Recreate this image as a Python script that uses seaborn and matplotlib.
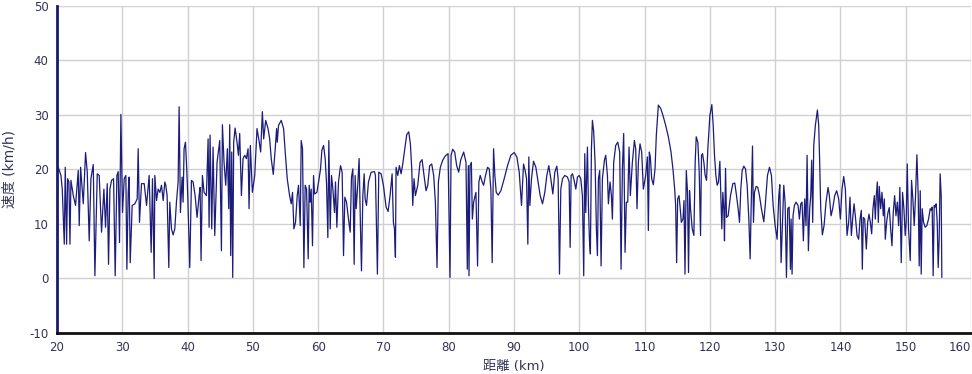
import matplotlib
matplotlib.use("Agg")
import matplotlib.pyplot as plt
import seaborn as sns
import pandas as pd

distance_km = [
    20.20, 20.61, 20.81, 21.12, 21.27, 21.48, 21.63, 21.83, 21.99, 22.14, 22.50, 22.85, 23.26, 23.41, 23.62,
    24.03, 24.38, 24.64, 24.94, 25.20, 25.56, 25.81, 26.17, 26.47, 26.83, 27.19, 27.44, 27.70, 27.90, 28.11,
    28.36, 28.67, 28.92, 29.18, 29.38, 29.58, 29.79, 30.04, 30.30, 30.55, 30.71, 30.91, 31.06, 31.22, 31.52,
    31.93, 32.29, 32.44, 32.64, 32.95, 33.36, 33.72, 34.12, 34.43, 34.63, 34.89, 34.99, 35.25, 35.50, 35.76,
    36.01, 36.27, 36.52,
    36.67, 36.87, 37.13, 37.28, 37.54, 37.79, 38.05, 38.30, 38.56, 38.71, 38.91, 39.17, 39.32, 39.47, 39.68,
    39.88, 40.03, 40.34, 40.60, 40.85, 41.16, 41.46, 41.77, 41.92, 42.07, 42.28, 42.53, 42.89, 43.15, 43.30,
    43.45, 43.71, 43.91, 44.17, 44.52, 44.93, 45.19, 45.34, 45.59, 45.85, 46.10, 46.31, 46.46, 46.61, 46.77,
    46.92, 47.07, 47.28, 47.58, 47.79, 47.99, 48.25, 48.50, 48.76, 49.01, 49.27, 49.42, 49.62, 49.93, 50.29,
    50.64, 50.95, 51.20, 51.46, 51.66, 51.97, 52.33, 52.58,
    52.82, 53.13, 53.43, 53.64, 53.74, 53.94, 54.35, 54.71, 54.96, 55.27, 55.63, 55.88, 56.08, 56.29, 56.54,
    56.80, 57.00, 57.26, 57.41, 57.61, 57.82, 58.02, 58.23, 58.48, 58.63, 58.79, 58.94, 59.14, 59.30, 59.45,
    59.81, 60.11, 60.37, 60.57, 60.83, 61.08, 61.29, 61.49, 61.64, 61.85, 62.05, 62.26, 62.51, 62.66, 62.87,
    63.12, 63.43, 63.68, 63.89, 64.09, 64.35, 64.65, 64.91, 65.11, 65.32, 65.52, 65.67, 65.83, 66.08, 66.28,
    66.49, 66.64, 66.85, 67.05, 67.20, 67.41, 67.71, 68.12, 68.63,
    68.78, 69.08, 69.29, 69.65, 70.00, 70.41, 70.72, 71.02, 71.33, 71.53, 71.69, 71.84, 71.94, 72.20, 72.45,
    72.71, 72.96, 73.27, 73.57, 73.88, 74.13, 74.34, 74.49, 74.69, 74.90, 75.26, 75.61, 75.92, 76.22, 76.53,
    76.79, 77.09, 77.40, 77.70, 77.96, 78.21, 78.42, 78.72, 79.08, 79.49, 79.90, 80.20, 80.36, 80.61, 80.92,
    81.22, 81.53, 81.83, 82.29, 82.65, 82.85, 83.01, 83.11, 83.26, 83.47, 83.62, 83.82,
    84.17, 84.42, 84.62, 84.83, 85.13, 85.34, 85.64, 85.95, 86.21, 86.46, 86.66, 86.87, 87.07, 87.28, 87.58,
    87.99, 88.50, 89.01, 89.52, 90.03, 90.44, 90.80, 91.15, 91.46, 91.71, 91.92, 92.12, 92.27, 92.43, 92.68,
    92.99, 93.35, 93.70, 94.01, 94.37, 94.72, 95.03, 95.33, 95.64, 95.95, 96.25, 96.56, 96.76, 96.97, 97.17,
    97.43, 97.78, 98.19, 98.45, 98.60, 98.75, 98.96, 99.21, 99.47, 99.72, 99.98, 100.23,
    100.48, 100.68, 100.84, 100.99, 101.25, 101.40, 101.55, 101.70, 101.86, 102.01, 102.21, 102.42, 102.62,
    102.78, 102.93, 103.13, 103.34, 103.54, 103.85, 104.05, 104.31, 104.46, 104.71, 104.92, 105.07, 105.27,
    105.58, 105.89, 106.19, 106.40, 106.60, 106.80, 107.01, 107.21, 107.42, 107.62, 107.82, 108.13, 108.44,
    108.64, 108.84, 109.05, 109.30, 109.56, 109.81, 110.17, 110.43, 110.58, 110.73, 110.88, 111.09, 111.34,
    111.60, 111.80, 112.11, 112.47, 112.82, 113.23, 113.64, 114.05, 114.35, 114.61, 114.76, 114.91, 115.07,
    115.27, 115.42, 115.63, 115.88, 116.04, 116.19, 116.39,
    116.58, 116.73, 116.89, 117.04, 117.30, 117.55, 117.75, 117.91, 118.16, 118.37, 118.57, 118.72, 118.88,
    119.08, 119.28, 119.49, 119.69, 120.00, 120.30, 120.51, 120.71, 120.92, 121.12, 121.32, 121.53, 121.68,
    121.83, 121.99, 122.14, 122.24, 122.40, 122.55, 122.80, 123.16, 123.52, 123.82, 124.08, 124.33, 124.54,
    124.74, 124.95, 125.20, 125.46, 125.71, 125.97, 126.17, 126.32, 126.53, 126.68, 126.83, 127.09, 127.34,
    127.60, 127.90, 128.26, 128.52, 128.82, 129.13, 129.43, 129.69, 130.00, 130.30, 130.56, 130.71, 130.91,
    131.12, 131.32, 131.52, 131.73, 131.93, 132.14, 132.34,
    132.44, 132.59, 132.74, 132.95, 133.20, 133.51, 133.71, 133.92, 134.12, 134.32, 134.53, 134.73, 134.89,
    135.09, 135.29, 135.45, 135.60, 135.75, 135.91, 136.16, 136.47, 136.67, 136.82, 136.98, 137.23, 137.49,
    137.79, 138.10, 138.30, 138.56, 138.81, 139.12, 139.42, 139.73, 139.99, 140.24, 140.50, 140.75, 141.01,
    141.26, 141.46, 141.67, 141.87, 142.08, 142.28, 142.54, 142.79, 143.00, 143.20, 143.35, 143.50, 143.71,
    143.96, 144.17, 144.37, 144.58, 144.78, 144.98, 145.19, 145.34, 145.49, 145.65, 145.80, 145.95, 146.16,
    146.36, 146.56, 146.72, 146.87, 147.07, 147.28, 147.48, 147.69, 147.89, 148.09, 148.30, 148.50, 148.71,
    148.91,
    149.10, 149.31, 149.51, 149.72, 149.92, 150.07, 150.23, 150.43, 150.69, 150.89, 151.09, 151.30, 151.50,
    151.71, 151.91, 152.06, 152.22, 152.37, 152.52, 152.73, 152.98, 153.24, 153.49, 153.75, 153.90, 154.05,
    154.20, 154.36, 154.51, 154.66, 154.82, 154.97, 155.12, 155.27, 155.43, 155.53,
]

speed_kmh = [
    20.4, 18.9, 16.4, 6.3, 20.4, 6.3, 18.3, 17.7, 6.3, 18.0, 15.2, 13.4, 19.8, 9.7, 20.4,
    13.7, 23.1, 19.5, 6.9, 18.3, 20.9, 0.5, 19.2, 18.9, 8.5, 16.4, 9.4, 17.4, 2.6, 16.4,
    18.0, 18.3, 0.5, 18.9, 19.6, 6.6, 30.1, 12.1, 18.3, 18.9, 1.7, 15.8, 18.6, 2.9, 13.4,
    13.7, 14.6, 23.8, 10.3, 17.4, 17.4, 13.4, 18.9, 4.8, 18.3, 0.0, 18.9, 14.3, 16.4, 15.8,
    17.1, 14.3, 17.7,
    17.1, 15.2, 2.0, 14.0, 9.1, 8.0, 9.1, 14.0, 17.7, 31.5, 12.1, 18.6, 14.0, 23.8, 25.0,
    20.0, 15.2, 2.0, 18.0, 17.7, 15.2, 11.2, 15.2, 16.7, 3.3, 18.9, 15.8, 15.2, 25.6, 9.4,
    26.3, 9.1, 24.1, 7.9, 21.3, 25.3, 5.1, 28.2, 21.3, 17.1, 23.8, 12.8, 28.2, 4.2, 23.2,
    0.2, 25.0, 27.6, 25.0, 22.6, 26.6, 15.2, 22.0, 22.6, 22.0, 23.8, 12.8, 24.4, 15.8, 18.9,
    27.5, 25.3, 23.2, 30.6, 25.6, 29.0, 27.5, 25.6,
    22.0, 19.1, 23.8, 27.5, 25.0, 28.1, 29.0, 27.5, 23.2, 18.3, 15.2, 13.7, 15.8, 9.1, 10.3,
    15.2, 17.1, 9.7, 25.3, 23.8, 2.0, 17.1, 16.4, 3.6, 17.1, 14.0, 16.4, 6.0, 18.9, 15.5,
    15.8, 18.0, 20.1, 23.5, 24.4, 22.0, 17.4, 7.5, 25.3, 9.1, 18.9, 16.4, 12.1, 17.7, 9.4,
    17.7, 20.7, 19.5, 4.2, 14.9, 14.0, 10.9, 8.5, 18.6, 20.1, 2.6, 18.9, 12.8, 17.4, 22.0,
    9.1, 1.4, 15.2, 19.2, 14.6, 13.4, 17.7, 19.5, 19.6,
    18.9, 0.8, 19.5, 19.2, 17.1, 13.1, 12.3, 15.2, 19.2, 10.3, 9.1, 3.9, 20.4, 18.9, 20.7,
    19.2, 21.0, 23.8, 26.4, 26.9, 24.7, 20.1, 13.4, 18.3, 15.2, 17.1, 21.3, 21.8, 18.9, 16.1,
    17.1, 20.7, 21.0, 18.9, 14.0, 2.0, 17.7, 20.4, 21.7, 22.5, 22.9, 0.2, 22.6, 23.7, 23.2,
    20.7, 19.5, 21.7, 23.2, 21.3, 1.7, 20.7, 0.5, 20.7, 21.3, 10.9, 14.0,
    15.8, 2.3, 17.7, 18.9, 17.7, 17.1, 18.9, 20.4, 20.1, 16.4, 2.9, 23.8, 18.9, 15.8, 15.3,
    16.1, 18.3, 20.7, 22.6, 23.1, 22.3, 19.5, 13.4, 21.0, 19.8, 18.3, 6.3, 22.3, 13.4, 18.3,
    21.5, 20.4, 17.7, 15.2, 13.7, 15.8, 18.9, 20.7, 18.3, 15.5, 19.5, 20.6, 18.3, 0.8, 16.4,
    18.3, 18.9, 18.6, 17.7, 5.7, 18.9, 19.2, 18.0, 16.4, 18.6, 18.9, 18.3,
    15.2, 0.5, 22.9, 12.1, 24.1, 13.4, 7.2, 4.5, 23.8, 29.0, 26.9, 21.3, 9.1,
    4.2, 18.3, 19.8, 2.3, 18.3, 21.7, 22.6, 18.9, 13.7, 17.7, 15.2, 10.9, 21.3,
    24.4, 25.0, 23.2, 1.7, 20.1, 26.6, 4.8, 14.0, 14.0, 24.1, 15.2, 21.3, 25.3,
    23.8, 12.8, 21.3, 24.7, 23.2, 16.4, 18.9, 22.3, 8.8, 23.2, 22.3, 18.3, 17.2,
    20.1, 26.3, 31.8, 31.2, 29.9, 28.1, 26.0, 23.2, 20.0, 16.4, 13.4, 2.9, 14.6,
    15.2, 13.4, 10.3, 10.9, 14.3, 0.8, 19.8,
    15.8, 1.1, 16.1, 12.8, 9.1, 7.9, 21.3, 26.0, 25.0, 19.5, 7.9, 22.6, 22.9,
    21.3, 18.9, 18.0, 23.8, 29.9, 31.9, 28.1, 22.6, 18.9, 17.1, 17.7, 21.5, 15.2,
    9.1, 15.8, 12.5, 6.9, 20.2, 11.2, 11.5, 15.2, 17.4, 17.5, 15.2, 12.8, 10.3,
    16.4, 19.8, 20.6, 20.1, 17.1, 10.9, 3.6, 12.8, 24.3, 10.3, 15.8, 16.9, 16.7,
    15.2, 12.8, 10.4, 14.0, 18.9, 20.4, 18.9, 13.4, 9.7, 7.2, 15.2, 17.2, 2.9,
    10.3, 17.1, 14.0, 0.2, 12.8, 13.1, 1.7,
    10.9, 0.8, 11.5, 13.4, 14.0, 13.4, 10.9, 13.7, 14.0, 6.9, 14.6, 9.7, 22.6,
    5.1, 12.8, 15.2, 21.7, 10.3, 24.4, 28.1, 30.9, 28.1, 21.3, 12.8, 8.0, 9.7,
    14.0, 16.7, 15.2, 11.5, 12.8, 15.2, 16.1, 14.6, 10.9, 16.4, 18.7, 16.4, 7.9,
    10.3, 14.9, 7.9, 10.9, 13.7, 11.5, 7.9, 7.2, 10.9, 12.5, 1.7, 11.2, 10.9,
    5.4, 10.3, 11.8, 10.3, 8.2, 12.8, 15.2, 10.9, 15.2, 17.7, 10.3, 16.9, 12.8,
    15.8, 11.5, 14.6, 7.2, 10.3, 12.1, 13.0, 9.1, 6.0, 12.1, 15.2, 11.5, 14.0,
    9.7,
    16.7, 2.9, 15.8, 12.8, 7.9, 10.3, 21.0, 9.1, 3.3, 18.0, 14.6, 9.7, 15.2,
    22.7, 15.2, 2.3, 16.1, 0.8, 12.8, 10.3, 9.4, 9.7, 10.9, 12.8, 12.5, 13.1,
    0.5, 13.4, 13.1, 13.7, 10.3, 2.0, 7.2, 19.2, 15.2, 0.2,
]

x_ticks = [20, 30, 40, 50, 60, 70, 80, 90, 100, 110, 120, 130, 140, 150, 160]
y_ticks = [-10, 0, 10, 20, 30, 40, 50]
x_label = "距離 (km)"
y_label = "速度 (km/h)"

sns.set_theme(style="white")
plt.rcParams['font.family'] = ['DejaVu Sans', 'Noto Sans CJK JP']
plt.rcParams['axes.unicode_minus'] = False

fig = plt.figure(figsize=(9.72, 3.74), dpi=100)
ax = fig.add_axes([0.0586, 0.1096, 0.9404, 0.8746])

df = pd.DataFrame({"distance": distance_km, "speed": speed_kmh})
sns.lineplot(data=df, x="distance", y="speed", ax=ax, color="#1c1c7a",
             linewidth=0.9, sort=False, estimator=None)

ax.set_xlim(20, 160)
ax.set_ylim(-10, 50)
ax.set_xticks(x_ticks)
ax.set_yticks(y_ticks)
ax.grid(True, color="#d0d0d0", linewidth=1)
ax.set_axisbelow(True)
for s in ["top", "right"]:
    ax.spines[s].set_visible(False)
ax.spines["left"].set_color("#1a1a70")
ax.spines["left"].set_linewidth(2)
ax.spines["bottom"].set_color("#111111")
ax.spines["bottom"].set_linewidth(2)
ax.tick_params(direction="out", length=4, width=1, colors="#333355", labelsize=8.5, pad=2)
ax.tick_params(axis="x", color="#111111")
ax.tick_params(axis="y", color="#1a1a70")
labels = ax.get_xticklabels()
labels[-1].set_horizontalalignment("right")

ax.set_xlabel(x_label, fontsize=9.5, color="#333355", labelpad=4)
ax.set_ylabel(y_label, fontsize=10, color="#333355")
ax.yaxis.set_label_coords(-0.044, 0.5)

fig.savefig("out.png", dpi=100)
